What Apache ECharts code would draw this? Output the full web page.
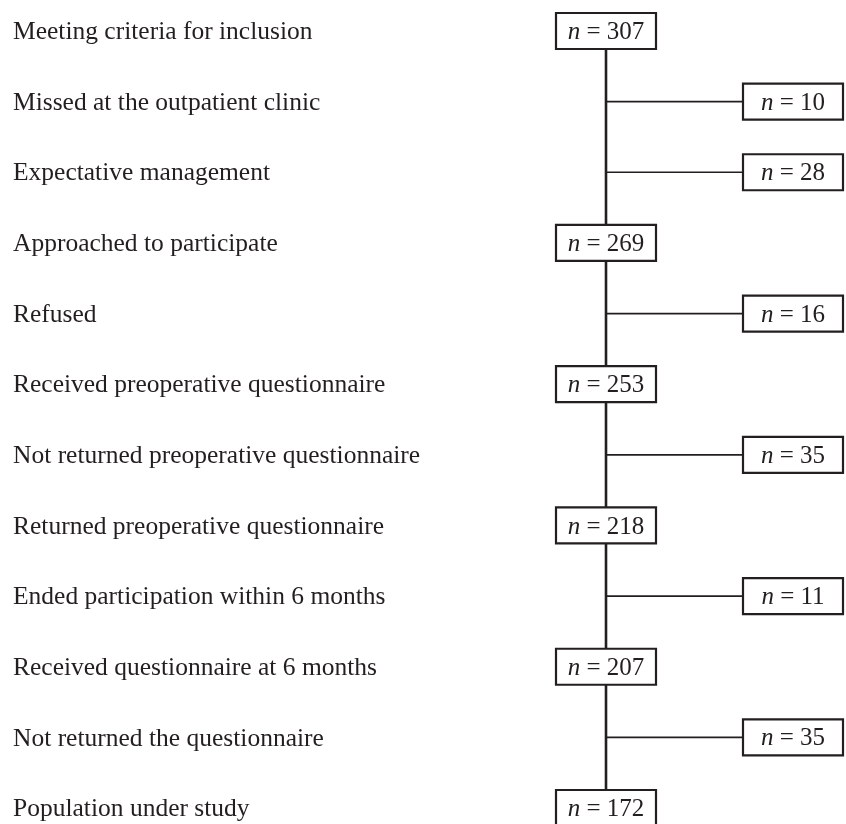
<!DOCTYPE html>
<html>
<head>
<meta charset="utf-8">
<script src="https://cdn.jsdelivr.net/npm/echarts@6/dist/echarts.min.js"></script>
<style>
html,body{margin:0;padding:0;background:#fff;}
#chart{width:846px;height:824px;}
</style>
</head>
<body>
<div id="chart"></div>
<script>
const steps = [
  'Meeting criteria for inclusion',
  'Missed at the outpatient clinic',
  'Expectative management',
  'Approached to participate',
  'Refused',
  'Received preoperative questionnaire',
  'Not returned preoperative questionnaire',
  'Returned preoperative questionnaire',
  'Ended participation within 6 months',
  'Received questionnaire at 6 months',
  'Not returned the questionnaire',
  'Population under study'
];
const counts = [307, 10, 28, 269, 16, 253, 35, 218, 11, 207, 35, 172];
const kinds = ['main', 'side', 'side', 'main', 'side', 'main', 'side', 'main', 'side', 'main', 'side', 'main'];

const INK = '#231f20';
const FONT = "'Liberation Serif', 'Times New Roman', serif";
const LABEL_X = 13;
const MAIN_CX = 606;
const SIDE_CX = 793;
const BOX_W = 100;
const BOX_H = 36;
const FS = 25.5;

const chart = echarts.init(document.getElementById('chart'), null, {renderer: 'canvas'});

function renderItem(params, api) {
  const i = params.dataIndex;
  const y = api.coord([0, i])[1];
  const xMain = api.coord([MAIN_CX, i])[0];
  const xSide = api.coord([SIDE_CX, i])[0];
  const xLabel = api.coord([LABEL_X, i])[0];
  const kind = kinds[i];
  const cx = kind === 'main' ? xMain : xSide;
  const children = [];

  if (kind === 'main') {
    let j = -1;
    for (let k = i + 1; k < kinds.length; k++) { if (kinds[k] === 'main') { j = k; break; } }
    if (j >= 0) {
      const yNext = api.coord([0, j])[1];
      children.push({
        type: 'line',
        shape: {x1: xMain, y1: y + BOX_H / 2, x2: xMain, y2: yNext - BOX_H / 2},
        style: {stroke: INK, lineWidth: 2.6}
      });
    }
  } else {
    children.push({
      type: 'line',
      shape: {x1: xMain, y1: y, x2: xSide - BOX_W / 2, y2: y},
      style: {stroke: INK, lineWidth: 1.7}
    });
  }

  children.push({
    type: 'text',
    x: xLabel,
    y: y + 1.5,
    style: {
      text: steps[i],
      fill: INK,
      font: FS + 'px ' + FONT,
      align: 'left',
      verticalAlign: 'middle'
    }
  });

  children.push({
    type: 'rect',
    shape: {x: cx - BOX_W / 2, y: y - BOX_H / 2, width: BOX_W, height: BOX_H},
    style: {fill: '#fff', stroke: INK, lineWidth: 2.2}
  });
  children.push({
    type: 'text',
    x: cx,
    y: y + 1.5,
    style: {
      text: '{i|n} = ' + counts[i],
      fill: INK,
      fontFamily: FONT,
      fontSize: 25,
      align: 'center',
      verticalAlign: 'middle',
      rich: {
        i: {fontStyle: 'italic', fontFamily: FONT, fontSize: 25, fill: INK}
      }
    }
  });
  return {type: 'group', children: children};
}

chart.setOption({
  animation: false,
  backgroundColor: '#fff',
  grid: {left: 0, right: 0, top: 31, bottom: 16},
  xAxis: {type: 'value', min: 0, max: 846, show: false},
  yAxis: {type: 'category', data: steps, inverse: true, boundaryGap: false, show: false},
  series: [{
    type: 'custom',
    renderItem: renderItem,
    clip: false,
    data: steps.map((s, i) => [0, i])
  }]
});
</script>
</body>
</html>
